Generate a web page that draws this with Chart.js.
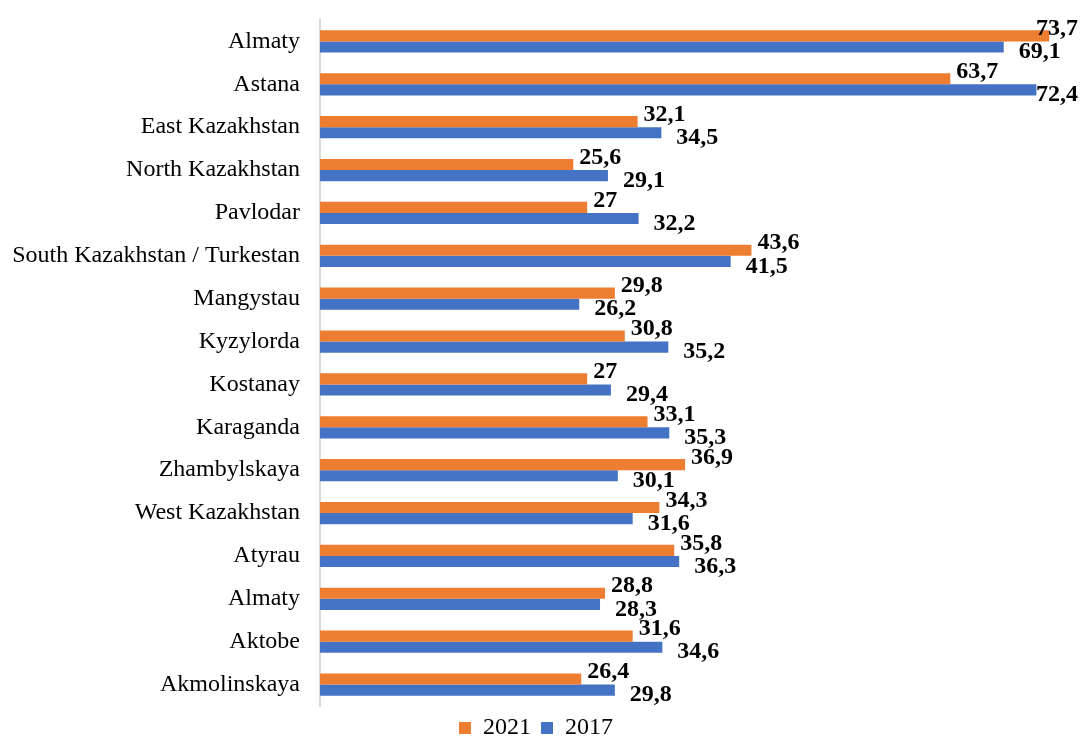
<!DOCTYPE html>
<html lang="en">
<head>
    <meta charset="UTF-8">
    <title>Regions 2017 / 2021</title>
    <script src="https://cdn.jsdelivr.net/npm/chart.js"></script>
    <style>
        html, body { margin: 0; padding: 0; background: #fff; }
        #wrap { width: 1080px; height: 736px; }
    </style>
</head>
<body>

<div id="wrap"><canvas id="regionChart"></canvas></div>

<script>
    const regions = ['Almaty', 'Astana', 'East Kazakhstan', 'North Kazakhstan', 'Pavlodar',
        'South Kazakhstan / Turkestan', 'Mangystau', 'Kyzylorda', 'Kostanay', 'Karaganda',
        'Zhambylskaya', 'West Kazakhstan', 'Atyrau', 'Almaty', 'Aktobe', 'Akmolinskaya'];
    const values2021 = [73.7, 63.7, 32.1, 25.6, 27, 43.6, 29.8, 30.8, 27, 33.1, 36.9, 34.3, 35.8, 28.8, 31.6, 26.4];
    const values2017 = [69.1, 72.4, 34.5, 29.1, 32.2, 41.5, 26.2, 35.2, 29.4, 35.3, 30.1, 31.6, 36.3, 28.3, 34.6, 29.8];

    const serif = '"Liberation Serif", "Times New Roman", serif';

    // value labels next to the bar ends, comma as decimal separator
    const barLabels = {
        id: 'barLabels',
        afterDatasetsDraw(chart) {
            const ctx = chart.ctx;
            ctx.save();
            ctx.font = 'bold 24px ' + serif;
            ctx.fillStyle = '#000';
            ctx.textBaseline = 'middle';
            ctx.textAlign = 'left';
            chart.data.datasets.forEach((ds, i) => {
                const meta = chart.getDatasetMeta(i);
                meta.data.forEach((bar, j) => {
                    const txt = String(ds.data[j]).replace('.', ',');
                    const w = ctx.measureText(txt).width;
                    let x = bar.x + (i === 0 ? 6 : 15);
                    const y = bar.y + (i === 0 ? -7 : 5);
                    if (x + w > chart.width - 2) x = chart.width - 2 - w;
                    ctx.fillText(txt, x, y);
                });
            });
            ctx.restore();
        }
    };

    new Chart(document.getElementById('regionChart'), {
        type: 'bar',
        data: {
            labels: regions,
            datasets: [
                { label: '2021', data: values2021, backgroundColor: '#ED7D31' },
                { label: '2017', data: values2017, backgroundColor: '#4472C4' }
            ]
        },
        options: {
            indexAxis: 'y',
            responsive: true,
            maintainAspectRatio: false,
            animation: false,
            layout: { padding: { top: 20, right: 8, left: 0, bottom: -14 } },
            datasets: {
                bar: { categoryPercentage: 0.52, barPercentage: 1 }
            },
            scales: {
                x: {
                    display: false,
                    min: 0,
                    max: 76
                },
                y: {
                    afterFit(scale) {
                        scale.width = 320;
                        scale.paddingTop = 0;
                        scale.paddingBottom = 0;
                    },
                    grid: { display: false, drawTicks: false },
                    border: { color: '#d9d9d9', width: 2 },
                    ticks: {
                        padding: 20,
                        color: '#000',
                        font: { family: serif, size: 24 }
                    }
                }
            },
            plugins: {
                tooltip: { enabled: false },
                legend: {
                    position: 'bottom',
                    labels: {
                        color: '#000',
                        boxWidth: 12,
                        boxHeight: 12,
                        padding: 10,
                        font: { family: serif, size: 24 }
                    }
                }
            }
        },
        plugins: [barLabels]
    });
</script>

</body>
</html>
